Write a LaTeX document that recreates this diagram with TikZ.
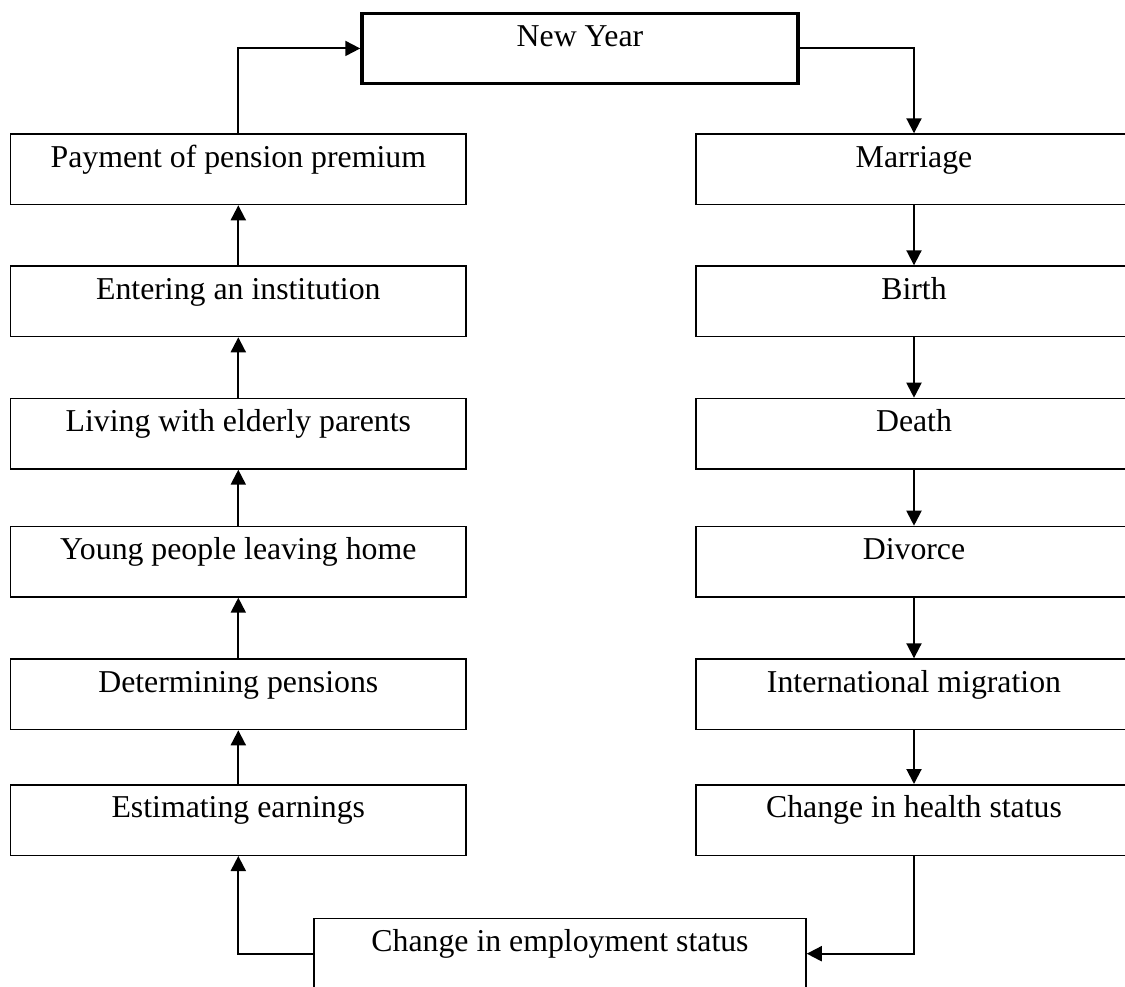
\documentclass[tikz,border=0pt]{standalone}
\usepackage{fontspec}
\setmainfont{Liberation Serif}
\usetikzlibrary{arrows.meta}
\begin{document}
\begin{tikzpicture}[x=1pt,y=-1pt,
  evbox/.style={draw=black, line width=1.5pt, rectangle, inner xsep=0pt, inner ysep=0pt,
    text height=33pt, text depth=37.5pt, anchor=north,
    font=\fontsize{31.8}{38}\selectfont},
  leftbox/.style={evbox, minimum width=455.3pt},
  rightbox/.style={evbox, minimum width=436pt},
  nybox/.style={evbox, line width=3.5pt, minimum width=436pt, text height=33pt, text depth=37pt},
  empbox/.style={evbox, minimum width=492pt},
  arr/.style={line width=2pt, -{Triangle[length=15pt,width=15pt]}}
]
\useasboundingbox (0,0) rectangle (1125,987);
\fill[white] (0,0) rectangle (1125,987);

\node[nybox] (ny) at (580,11.7) {New Year};

\node[leftbox] (pay) at (238.3,133.3) {Payment of pension premium};
\node[leftbox] (ent) at (238.3,265.3) {Entering an institution};
\node[leftbox] (liv) at (238.3,397.7) {Living with elderly parents};
\node[leftbox] (you) at (238.3,525.7) {Young people leaving home};
\node[leftbox] (det) at (238.3,658.3) {Determining pensions};
\node[leftbox] (est) at (238.3,784) {Estimating earnings};

\node[rightbox] (mar) at (914,133.3) {Marriage};
\node[rightbox] (bir) at (914,265.3) {Birth};
\node[rightbox] (dea) at (914,397.7) {Death};
\node[rightbox] (div) at (914,525.7) {Divorce};
\node[rightbox] (mig) at (914,658.3) {International migration};
\node[rightbox] (hea) at (914,784) {Change in health status};

\node[empbox] (emp) at (560,917.7) {Change in employment status};

\draw[arr] (pay.north) |- (ny.west);
\draw[arr] (ny.east) -| (mar.north);
\draw[arr] (mar.south) -- (bir.north);
\draw[arr] (bir.south) -- (dea.north);
\draw[arr] (dea.south) -- (div.north);
\draw[arr] (div.south) -- (mig.north);
\draw[arr] (mig.south) -- (hea.north);
\draw[arr] (hea.south) |- (emp.east);
\draw[arr] (emp.west) -| (est.south);
\draw[arr] (est.north) -- (det.south);
\draw[arr] (det.north) -- (you.south);
\draw[arr] (you.north) -- (liv.south);
\draw[arr] (liv.north) -- (ent.south);
\draw[arr] (ent.north) -- (pay.south);
\end{tikzpicture}
\end{document}
